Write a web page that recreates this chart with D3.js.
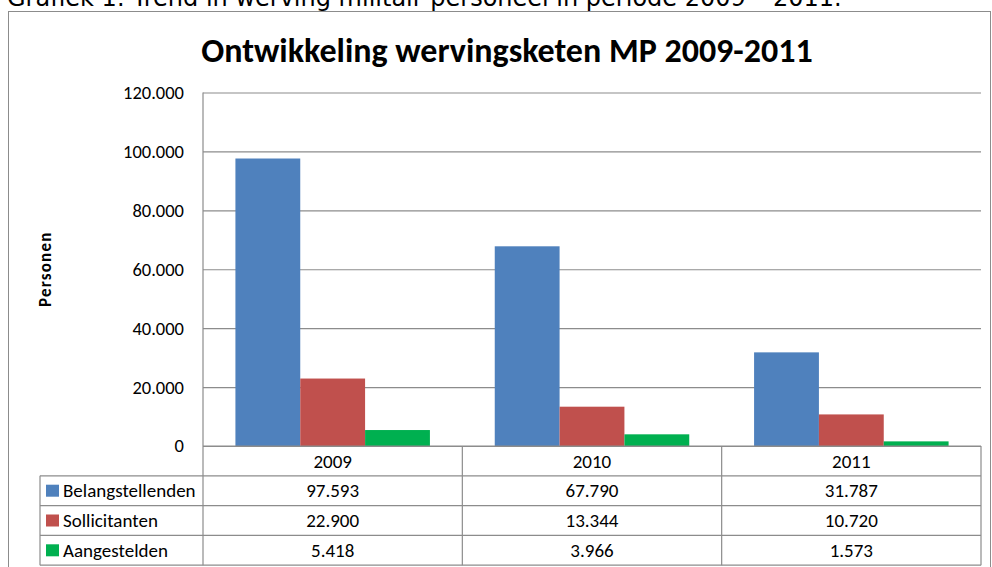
<!DOCTYPE html>
<html>
<head>
<meta charset="utf-8">
<script src="https://cdn.jsdelivr.net/npm/d3@7"></script>
<style>
  html, body { margin: 0; padding: 0; background: #fff; overflow: hidden; }
  svg { display: block; }
</style>
</head>
<body>
<div id="chart"></div>
<script>
// Chart data
const years = ["2009", "2010", "2011"];
const seriesNames = ["Belangstellenden", "Sollicitanten", "Aangestelden"];
const belangstellenden = [97593, 67790, 31787];
const sollicitanten = [22900, 13344, 10720];
const aangestelden = [5418, 3966, 1573];
const yTicks = [0, 20000, 40000, 60000, 80000, 100000, 120000];
const seriesColors = ["#4F81BD", "#C0504D", "#00B050"];

const seriesValues = [belangstellenden, sollicitanten, aangestelden];

// Dutch number format: 120.000
const nl = d3.formatLocale({ decimal: ",", thousands: ".", grouping: [3], currency: ["€", ""] });
const fmt = nl.format(",");

const font = "Carlito, Lato, sans-serif";
const tableFontSize = 19;

// 1. Dimensions
let dimensions = {
  width: 992,
  height: 567,
  margin: { top: 92.5, right: 11, bottom: 121, left: 203 },
};
dimensions.boundedWidth = dimensions.width - dimensions.margin.left - dimensions.margin.right;
dimensions.boundedHeight = dimensions.height - dimensions.margin.top - dimensions.margin.bottom;

const rowHeight = 29.8;
const legendLeft = 40;

// 2. Canvas
const svg = d3.select("#chart")
  .append("svg")
  .attr("width", dimensions.width)
  .attr("height", dimensions.height);

// caption above the chart frame (cut off at the top)
svg.append("text")
  .attr("x", 7)
  .attr("y", 6)
  .attr("font-family", "DejaVu Sans, Verdana, sans-serif")
  .attr("font-size", 24)
  .attr("fill", "#000")
  .text("Grafiek 1: Trend in werving militair personeel in periode 2009 – 2011.");

// chart frame
svg.append("rect")
  .attr("x", 8.5)
  .attr("y", 11.5)
  .attr("width", 982)
  .attr("height", 600)
  .attr("fill", "#fff")
  .attr("stroke", "#8c8c8c")
  .attr("stroke-width", 1);

// title
svg.append("text")
  .attr("x", 507)
  .attr("y", 62)
  .attr("text-anchor", "middle")
  .attr("font-family", font)
  .attr("font-weight", "bold")
  .attr("font-size", 34)
  .text("Ontwikkeling wervingsketen MP 2009-2011");

const bounds = svg.append("g")
  .attr("transform", `translate(${dimensions.margin.left}, ${dimensions.margin.top})`);

// 3. Scales
const xScale = d3.scaleBand()
  .domain(years)
  .range([0, dimensions.boundedWidth])
  .padding(0);

const xSeries = d3.scaleBand()
  .domain(seriesNames)
  .range([0, xScale.bandwidth()])
  .paddingInner(0)
  .paddingOuter(0.5);

const yScale = d3.scaleLinear()
  .domain([0, 120000])
  .range([dimensions.boundedHeight, 0]);

// 4. Gridlines + y axis
const yAxisGenerator = d3.axisLeft(yScale)
  .tickValues(yTicks)
  .tickSize(-dimensions.boundedWidth)
  .tickPadding(19)
  .tickFormat(fmt);

const yAxis = bounds.append("g")
  .call(yAxisGenerator);
yAxis.select(".domain").remove();
yAxis.selectAll(".tick line")
  .attr("stroke", "#8c8c8c")
  .attr("stroke-width", 1.2);
yAxis.selectAll(".tick text")
  .attr("font-family", font)
  .attr("font-size", 18.5)
  .attr("fill", "#000");

bounds.append("line")
  .attr("x1", 0).attr("x2", 0)
  .attr("y1", 0).attr("y2", dimensions.boundedHeight)
  .attr("stroke", "#8c8c8c")
  .attr("stroke-width", 1.2);

// 5. Bars
const barData = [];
years.forEach((yr, i) => {
  seriesNames.forEach((s, j) => {
    barData.push({ year: yr, series: s, value: seriesValues[j][i], color: seriesColors[j] });
  });
});

bounds.append("g")
  .selectAll("rect")
  .data(barData)
  .join("rect")
  .attr("x", (d) => xScale(d.year) + xSeries(d.series))
  .attr("y", (d) => yScale(d.value))
  .attr("width", xSeries.bandwidth())
  .attr("height", (d) => dimensions.boundedHeight - yScale(d.value))
  .attr("fill", (d) => d.color);

// 6. Data table
const table = bounds.append("g")
  .attr("transform", `translate(0, ${dimensions.boundedHeight})`);
const lineColor = "#8c8c8c";
const tableBottom = rowHeight * 4;
const legendX = legendLeft - dimensions.margin.left;

// horizontal lines
[0, 1, 2, 3, 4].forEach((r) => {
  table.append("line")
    .attr("x1", r === 0 ? 0 : legendX)
    .attr("x2", dimensions.boundedWidth)
    .attr("y1", r * rowHeight)
    .attr("y2", r * rowHeight)
    .attr("stroke", lineColor)
    .attr("stroke-width", 1.2);
});

// vertical lines
const colEdges = years.map((y) => xScale(y)).concat([dimensions.boundedWidth]);
colEdges.forEach((x) => {
  table.append("line")
    .attr("x1", x).attr("x2", x)
    .attr("y1", 0).attr("y2", tableBottom)
    .attr("stroke", lineColor)
    .attr("stroke-width", 1.2);
});
table.append("line")
  .attr("x1", legendX).attr("x2", legendX)
  .attr("y1", rowHeight).attr("y2", tableBottom)
  .attr("stroke", lineColor)
  .attr("stroke-width", 1.2);

// year labels
table.selectAll(".year")
  .data(years)
  .join("text")
  .attr("class", "year")
  .attr("x", (d) => xScale(d) + xScale.bandwidth() / 2)
  .attr("y", rowHeight / 2)
  .attr("dy", "0.35em")
  .attr("text-anchor", "middle")
  .attr("font-family", font)
  .attr("font-size", tableFontSize)
  .text((d) => d);

// legend column + values
seriesNames.forEach((s, j) => {
  const cy = rowHeight * (j + 1) + rowHeight / 2;
  table.append("rect")
    .attr("x", legendX + 6)
    .attr("y", cy - 6)
    .attr("width", 13)
    .attr("height", 12)
    .attr("fill", seriesColors[j]);
  table.append("text")
    .attr("x", legendX + 23)
    .attr("y", cy)
    .attr("dy", "0.35em")
    .attr("font-family", font)
    .attr("font-size", tableFontSize)
    .text(s);
  table.selectAll(`.val${j}`)
    .data(seriesValues[j])
    .join("text")
    .attr("x", (d, i) => xScale(years[i]) + xScale.bandwidth() / 2)
    .attr("y", cy)
    .attr("dy", "0.35em")
    .attr("text-anchor", "middle")
    .attr("font-family", font)
    .attr("font-size", tableFontSize)
    .text((d) => fmt(d));
});

// y axis title
svg.append("text")
  .attr("transform", `translate(51, ${dimensions.margin.top + dimensions.boundedHeight / 2}) rotate(-90)`)
  .attr("text-anchor", "middle")
  .attr("font-family", font)
  .attr("font-weight", "bold")
  .attr("font-size", 17)
  .attr("letter-spacing", 1.2)
  .text("Personen");
</script>
</body>
</html>
